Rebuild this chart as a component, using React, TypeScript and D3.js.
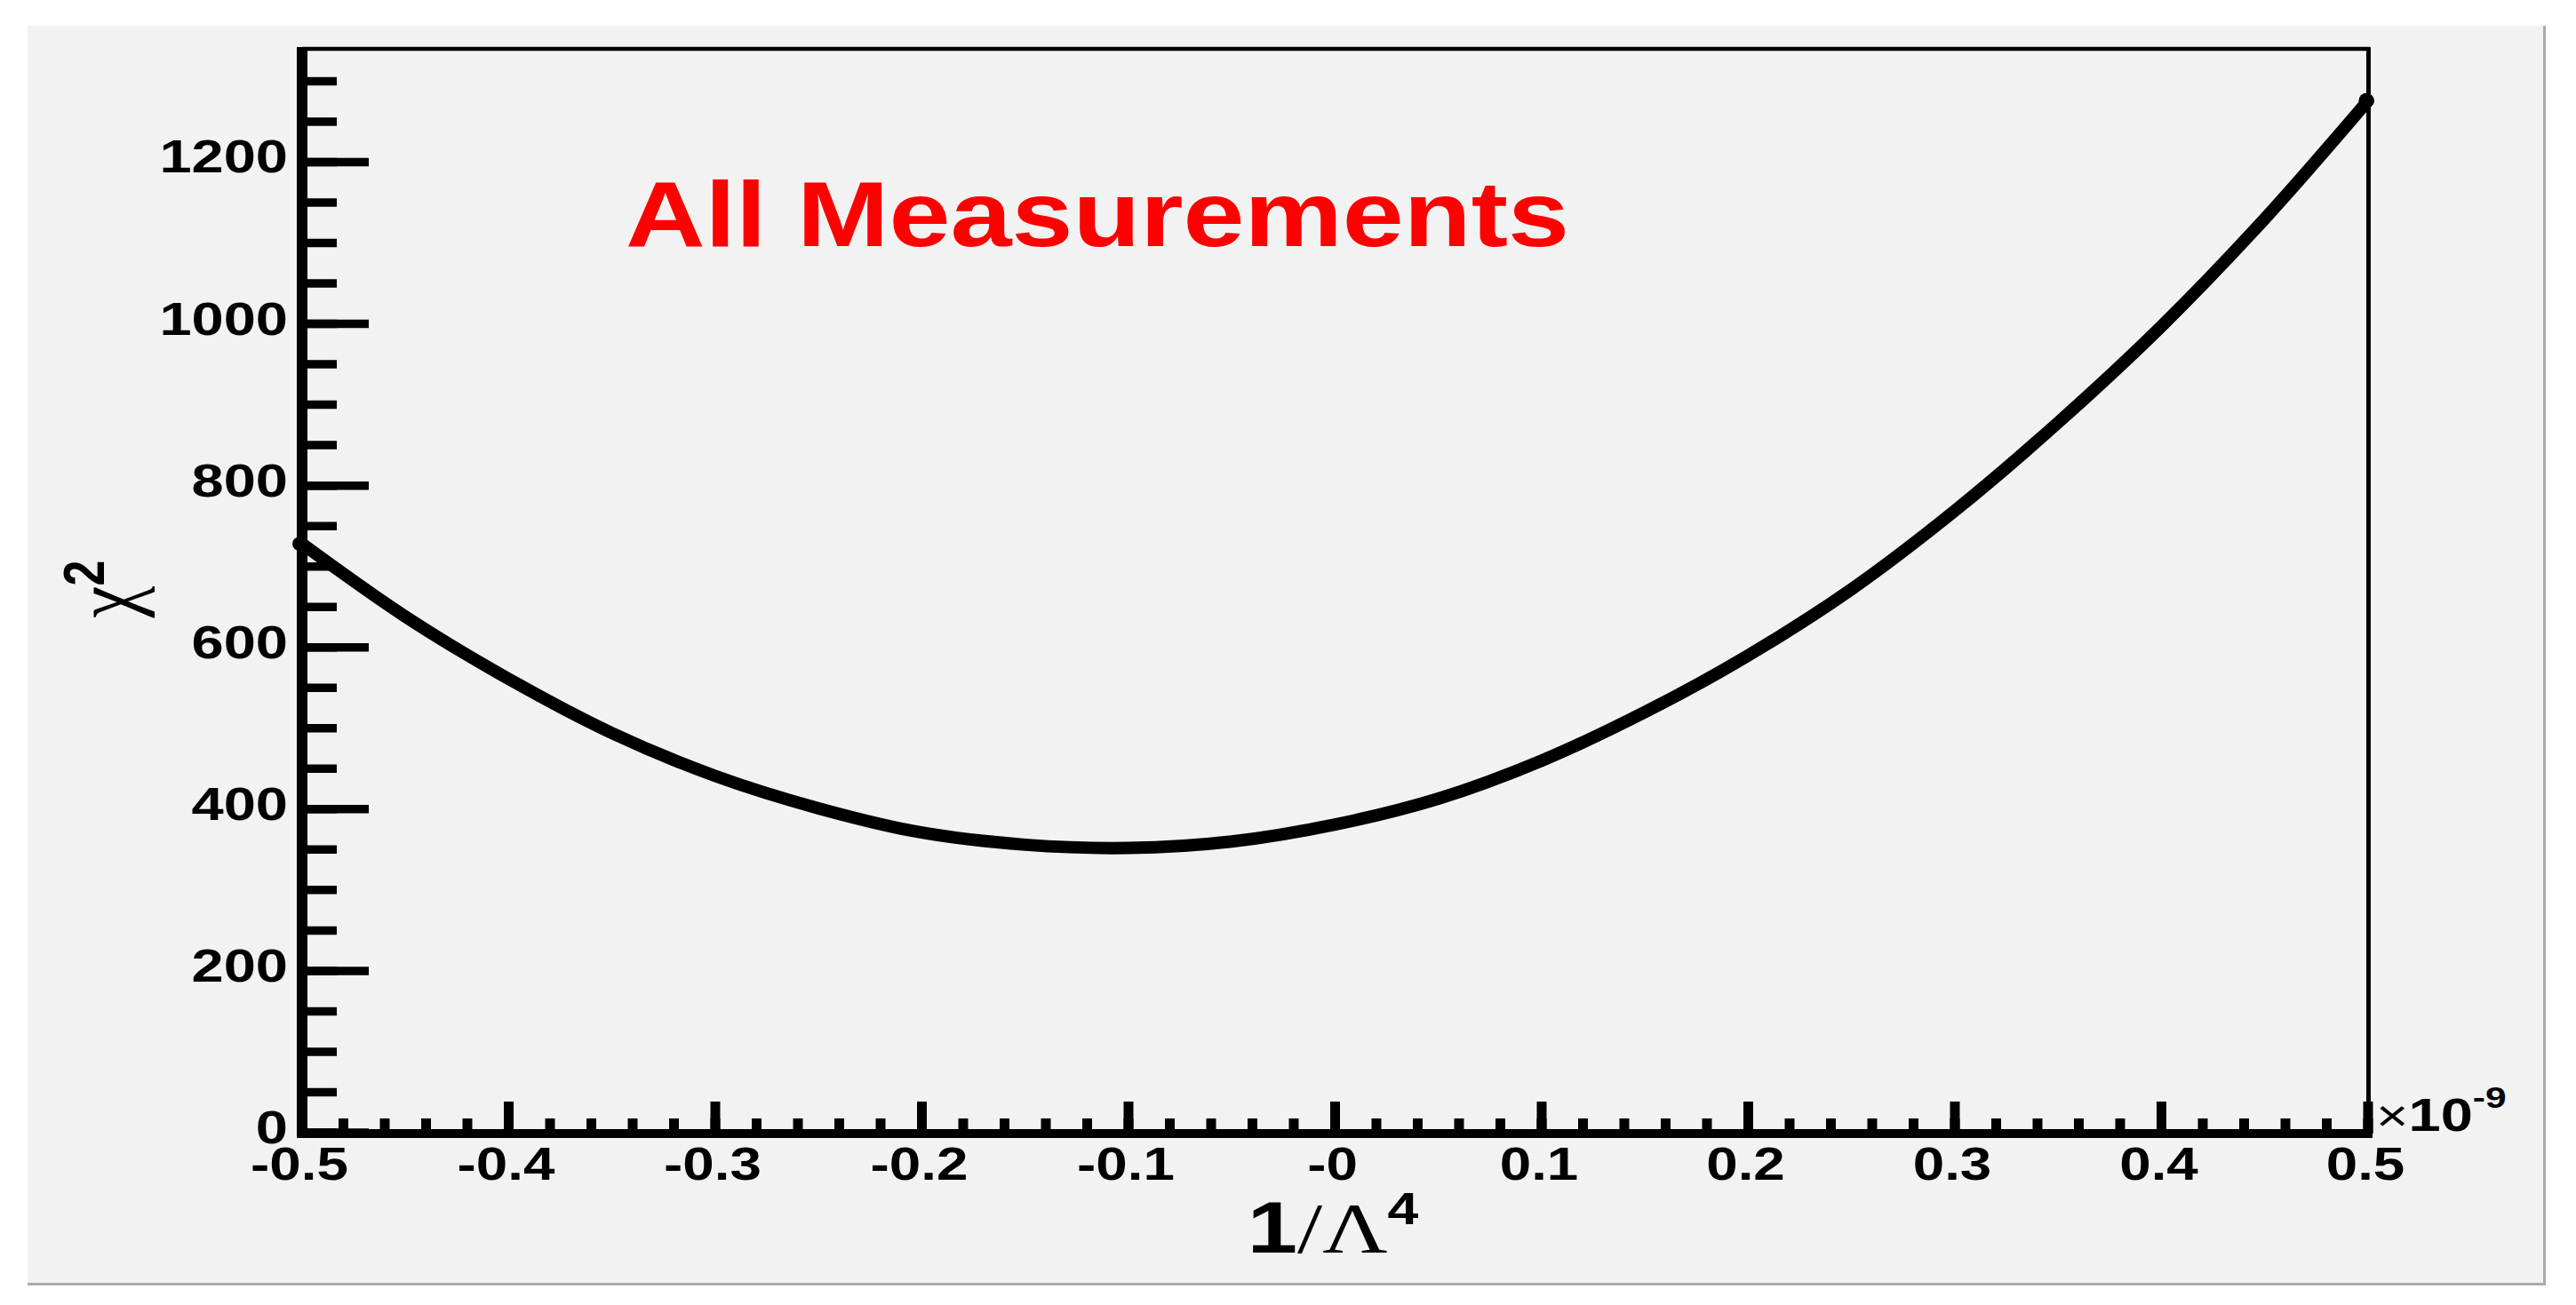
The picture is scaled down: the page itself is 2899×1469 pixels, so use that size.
import React, { useEffect } from 'react';
import * as d3 from 'd3';

const W = 2899;
const H = 1469;

// curve samples (x in units of 1e-9)
const xValues = [-0.5, -0.45, -0.4, -0.35, -0.3, -0.25, -0.2, -0.15, -0.1, -0.05, 0, 0.05, 0.1, 0.15, 0.2, 0.25, 0.3, 0.35, 0.4, 0.45, 0.5];
const chi2Values = [728, 638, 561, 494, 441, 401, 371, 356, 352, 360, 381, 413, 460, 520, 590, 672, 769, 878, 997, 1130, 1276];

const xTickValues = [-0.5, -0.4, -0.3, -0.2, -0.1, 0, 0.1, 0.2, 0.3, 0.4, 0.5];
const xTickLabels = ['-0.5', '-0.4', '-0.3', '-0.2', '-0.1', '-0', '0.1', '0.2', '0.3', '0.4', '0.5'];
const yTickValues = [0, 200, 400, 600, 800, 1000, 1200];
const yTickLabels = ['0', '200', '400', '600', '800', '1000', '1200'];
const titleText = 'All Measurements';

const SANS = '"Liberation Sans", Arial, Helvetica, sans-serif';
const SERIF = '"Liberation Serif", "DejaVu Serif", serif';
const SX = 1.25;

export default function App() {
  useEffect(() => {
    document.body.style.margin = '0';
    document.body.style.overflow = 'hidden';
  }, []);

  const x = d3.scaleLinear().domain([-0.5, 0.5]).range([340, 2665]);
  const y = d3.scaleLinear().domain([0, 1340]).range([1275, 55]);

  const xMinor = d3.range(0, 51).map((i) => -0.5 + i * 0.02);
  const yMinor = d3.range(0, 27).map((i) => i * 50);

  const line = d3
    .line<number>()
    .x((_, i) => x(xValues[i]))
    .y((d) => y(d))
    .curve(d3.curveCatmullRom.alpha(0.5));

  const pathD = line(chi2Values) || '';

  return (
    <svg width={W} height={H} style={{ position: 'absolute', left: 0, top: 0, display: 'block' }}>
      <rect x={0} y={0} width={W} height={H} fill="#ffffff" />
      {/* pad */}
      <rect x={31} y={29} width={2832} height={1415} fill="#f2f2f2" />
      <line x1={2863.5} y1={29} x2={2863.5} y2={1447} stroke="#aaaaaa" strokeWidth={3} />
      <line x1={31} y1={1445.5} x2={2865} y2={1445.5} stroke="#aaaaaa" strokeWidth={3} />

      {/* curve */}
      <path d={pathD} fill="none" stroke="#000" strokeWidth={14} strokeLinejoin="round" strokeLinecap="round" />
      <circle cx={x(xValues[0]) - 3} cy={y(chi2Values[0])} r={8} fill="#000" />
      <circle cx={x(xValues[xValues.length - 1]) - 2} cy={y(chi2Values[chi2Values.length - 1])} r={8.5} fill="#000" />

      {/* frame */}
      <line x1={340} y1={55} x2={2667} y2={55} stroke="#000" strokeWidth={4.5} />
      <line x1={2665.5} y1={53} x2={2665.5} y2={1276} stroke="#000" strokeWidth={5} />

      {/* y axis */}
      <line x1={340} y1={53} x2={340} y2={1281} stroke="#000" strokeWidth={12} />
      {yMinor.map((v) => (
        <line key={'ym' + v} x1={340} x2={379} y1={y(v)} y2={y(v)} stroke="#000" strokeWidth={9.5} />
      ))}
      {yTickValues.map((v) => (
        <line key={'yM' + v} x1={340} x2={415} y1={y(v)} y2={y(v)} stroke="#000" strokeWidth={9.5} />
      ))}
      {yTickValues.map((v, i) => (
        <g key={'yl' + v} transform={`translate(324, ${y(v) + 12}) scale(${SX},1)`}>
          <text textAnchor="end" fontFamily={SANS} fontWeight="bold" fontSize={52} fill="#000">
            {yTickLabels[i]}
          </text>
        </g>
      ))}

      {/* x axis */}
      <line x1={334} y1={1276} x2={2670} y2={1276} stroke="#000" strokeWidth={10} />
      {xMinor.map((v, i) => (
        <line key={'xm' + i} x1={x(v)} x2={x(v)} y1={1276} y2={1259} stroke="#000" strokeWidth={11} />
      ))}
      {xTickValues.map((v) => (
        <line key={'xM' + v} x1={x(v)} x2={x(v)} y1={1276} y2={1240} stroke="#000" strokeWidth={11} />
      ))}
      {xTickValues.map((v, i) => (
        <g key={'xl' + v} transform={`translate(${x(v) - 3}, 1328) scale(${SX},1)`}>
          <text textAnchor="middle" fontFamily={SANS} fontWeight="bold" fontSize={51} fill="#000">
            {xTickLabels[i]}
          </text>
        </g>
      ))}

      {/* exponent */}
      <g transform={`translate(2674, 1273) scale(${SX},1)`}>
        <text fontFamily={SANS} fill="#000">
          <tspan fontSize={50} fontWeight="normal">×</tspan>
          <tspan fontSize={52} fontWeight="bold">10</tspan>
          <tspan fontSize={34} fontWeight="bold" dy={-26}>-9</tspan>
        </text>
      </g>

      {/* x title */}
      <g transform={`translate(1500, 1410) scale(${SX},1)`}>
        <text textAnchor="middle" fill="#000">
          <tspan fontFamily={SANS} fontWeight="bold" fontSize={81}>1</tspan>
          <tspan fontFamily={SERIF} fontSize={81}>/Λ</tspan>
          <tspan fontFamily={SANS} fontWeight="bold" fontSize={50} dy={-32}>4</tspan>
        </text>
      </g>

      {/* y title */}
      <g transform={`translate(152, 663) scale(${SX},1) rotate(-90)`}>
        <text textAnchor="middle" fill="#000">
          <tspan fontFamily={SERIF} fontSize={81}>χ</tspan>
          <tspan fontFamily={SANS} fontWeight="bold" fontSize={52} dy={-28}>2</tspan>
        </text>
      </g>

      {/* title */}
      <text
        x={704}
        y={277}
        fontFamily={SANS}
        fontWeight="bold"
        fontSize={104}
        fill="#ff0000"
        textLength={1062}
        lengthAdjust="spacingAndGlyphs"
      >
        {titleText}
      </text>
    </svg>
  );
}
